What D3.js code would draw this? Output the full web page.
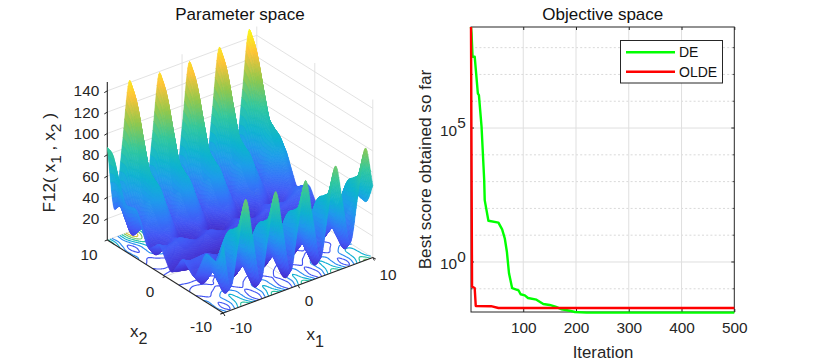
<!DOCTYPE html>
<html><head><meta charset="utf-8">
<script src="https://cdn.jsdelivr.net/npm/d3@7"></script>
<style>html,body{margin:0;padding:0;background:#fff}svg{display:block}text{font-family:"Liberation Sans",Arial,sans-serif}</style>
</head><body><div id="c"></div>
<script>
// ---------- left panel data ----------
const gridX1 = [-10,-9,-8,-7,-6,-5,-4,-3,-2,-1,0,1,2,3,4,5,6,7,8,9,10];
const gridX2 = [-10,-9,-8,-7,-6,-5,-4,-3,-2,-1,0,1,2,3,4,5,6,7,8,9,10];
const surfaceZ = [
[63.5,22.1,60.4,98.9,58.0,17.4,56.5,95.7,55.7,15.8,55.7,95.7,56.5,17.4,58.0,98.9,60.4,22.1,63.5,105.2,67.5],
[45.7,12.6,42.5,72.6,40.2,7.9,38.6,69.5,37.8,6.3,37.8,69.5,38.6,7.9,40.2,72.6,42.5,12.6,45.7,78.9,49.6],
[44.7,18.9,41.5,64.3,39.2,14.2,37.6,61.2,36.8,12.7,36.8,61.2,37.6,14.2,39.2,64.3,41.5,18.9,44.7,70.6,48.6],
[44.9,25.5,41.7,58.1,39.4,20.8,37.8,55.0,37.0,19.2,37.0,55.0,37.8,20.8,39.4,58.1,41.7,25.5,44.9,64.4,48.8],
[30.5,16.6,27.4,38.4,25.0,11.9,23.5,35.2,22.7,10.3,22.7,35.2,23.5,11.9,25.0,38.4,27.4,16.6,30.5,44.7,34.5],
[17.4,7.9,14.2,20.8,11.9,3.1,10.3,17.7,9.5,1.6,9.5,17.7,10.3,3.1,11.9,20.8,14.2,7.9,17.4,27.1,21.3],
[21.1,15.0,18.0,21.1,15.6,10.3,14.0,18.0,13.3,8.7,13.3,18.0,14.0,10.3,15.6,21.1,18.0,15.0,21.1,27.4,25.0],
[26.0,22.4,22.9,23.6,20.5,17.7,19.0,20.4,18.2,16.1,18.2,20.4,19.0,17.7,20.5,23.6,22.9,22.4,26.0,29.9,30.0],
[16.4,14.2,13.3,12.5,10.9,9.5,9.3,9.3,8.5,8.0,8.5,9.3,9.3,9.5,10.9,12.5,13.3,14.2,16.4,18.8,20.3],
[8.0,6.3,4.8,3.5,2.5,1.6,0.9,0.4,0.1,0,0.1,0.4,0.9,1.6,2.5,3.5,4.8,6.3,8.0,9.8,11.9],
[16.4,14.2,13.3,12.5,10.9,9.5,9.3,9.3,8.5,8.0,8.5,9.3,9.3,9.5,10.9,12.5,13.3,14.2,16.4,18.8,20.3],
[26.0,22.4,22.9,23.6,20.5,17.7,19.0,20.4,18.2,16.1,18.2,20.4,19.0,17.7,20.5,23.6,22.9,22.4,26.0,29.9,30.0],
[21.1,15.0,18.0,21.1,15.6,10.3,14.0,18.0,13.3,8.7,13.3,18.0,14.0,10.3,15.6,21.1,18.0,15.0,21.1,27.4,25.0],
[17.4,7.9,14.2,20.8,11.9,3.1,10.3,17.7,9.5,1.6,9.5,17.7,10.3,3.1,11.9,20.8,14.2,7.9,17.4,27.1,21.3],
[30.5,16.6,27.4,38.4,25.0,11.9,23.5,35.2,22.7,10.3,22.7,35.2,23.5,11.9,25.0,38.4,27.4,16.6,30.5,44.7,34.5],
[44.9,25.5,41.7,58.1,39.4,20.8,37.8,55.0,37.0,19.2,37.0,55.0,37.8,20.8,39.4,58.1,41.7,25.5,44.9,64.4,48.8],
[44.7,18.9,41.5,64.3,39.2,14.2,37.6,61.2,36.8,12.7,36.8,61.2,37.6,14.2,39.2,64.3,41.5,18.9,44.7,70.6,48.6],
[45.7,12.6,42.5,72.6,40.2,7.9,38.6,69.5,37.8,6.3,37.8,69.5,38.6,7.9,40.2,72.6,42.5,12.6,45.7,78.9,49.6],
[63.5,22.1,60.4,98.9,58.0,17.4,56.5,95.7,55.7,15.8,55.7,95.7,56.5,17.4,58.0,98.9,60.4,22.1,63.5,105.2,67.5],
[82.6,31.8,79.4,127.2,77.1,27.1,75.5,124.1,74.7,25.5,74.7,124.1,75.5,27.1,77.1,127.2,79.4,31.8,82.6,133.5,86.5],
[87.1,26.0,83.9,142.1,81.6,21.3,80.0,138.9,79.2,19.7,79.2,138.9,80.0,21.3,81.6,142.1,83.9,26.0,87.1,148.3,91.0]
];
const zTicks = [20,40,60,80,100,120,140];
const xyTicks = [-10,0,10];
const contourLevels = [20,40,60,80,100,120,140];
const parulaStops = [0,0.07,0.14,0.22,0.32,0.42,0.56,0.72,0.87,1];
const parula = ["#3e26a8","#4538d8","#4459f5","#3478f8","#1f9ceb","#0eb4cf","#30c79e","#93c84c","#fec338","#f9fb15"];
// ---------- right panel data ----------
const deIter = [1,2,4,8,14,16,21,26,27,28,34,53,60,65,69,73,79,91,95,103,109,125,138,150,161,173,188,198,220,500];
const deBest = [5.9e8,3.5e8,4.6e7,4.6e7,1.95e6,1.7e6,1.12e5,1150,204,158,34.7,29.5,16.6,7.66,2.42,0.38,0.105,0.088,0.0624,0.0571,0.0454,0.0392,0.0271,0.0249,0.0215,0.0172,0.0152,0.0136,0.0129,0.0129];
const oldeIter = [1,3,8,10,39,53,500];
const oldeBest = [5.9e8,0.12,0.107,0.0229,0.0224,0.0192,0.0192];
const iterTicks = [100,200,300,400,500];
const legendNames = ["DE","OLDE"];
const legendColors = ["#00ff00","#ff0000"];

const W=825,H=362, INK="#262626", GRID="#dfdfdf";
const svg=d3.select("#c").append("svg").attr("width",W).attr("height",H);

// ---------- 3D oblique projection through scales ----------
const sx1=d3.scaleLinear().domain([-10,10]).range([0,149.5]);
const sy1=d3.scaleLinear().domain([-10,10]).range([0,-55.5]);
const sx2=d3.scaleLinear().domain([-10,10]).range([0,-116]);
const sy2=d3.scaleLinear().domain([-10,10]).range([0,-73]);
const sz =d3.scaleLinear().domain([0,148.3]).range([0,-158]);
const OX=223.3,OY=313;
const P=(a,b,z=0)=>[OX+sx1(a)+sx2(b), OY+sy1(a)+sy2(b)+sz(z)];
const ln=d3.line();
const L=svg.append("g");
const seg=(g,a,b,c,w=0.9)=>g.append("path").attr("d",ln([a,b])).attr("stroke",c).attr("stroke-width",w).attr("fill","none");

const zTop=148.3;
const wallG=L.append("g");
zTicks.forEach(z=>{
  seg(wallG,P(-10,10,z),P(10,10,z),GRID);
  seg(wallG,P(10,10,z),P(10,-10,z),GRID);
});
[0,10].forEach(a=>seg(wallG,P(a,10,0),P(a,10,zTop),GRID));
[0,-10].forEach(b=>seg(wallG,P(10,b,0),P(10,b,zTop),GRID));
seg(wallG,P(0,-10),P(0,10),GRID);
seg(wallG,P(-10,0),P(10,0),GRID);
seg(wallG,P(-10,10),P(10,10),GRID);
seg(wallG,P(10,10),P(10,-10),GRID);

// render-time smoothing of the surface table (Catmull-Rom between the table rows)
const SUB=9;
function cr(p0,p1,p2,p3,t){return 0.5*((2*p1)+(-p0+p2)*t+(2*p0-5*p1+4*p2-p3)*t*t+(-p0+3*p1-3*p2+p3)*t*t*t);}
function up(arr){const n=arr.length,o=[];
  for(let i=0;i<n-1;i++){const a=arr[i],b=arr[i+1],z=i>0?arr[i-1]:2*a-b,d=i<n-2?arr[i+2]:2*b-a;
    for(let s=0;s<SUB;s++)o.push(cr(z,a,b,d,s/SUB));}
  o.push(arr[n-1]);return o;}
const rowsUp=surfaceZ.map(up);
const fine=[];
for(let c=0;c<rowsUp[0].length;c++){const col=up(rowsUp.map(r=>r[c]));col.forEach((v,r)=>{(fine[r]=fine[r]||[])[c]=v;});}
const fx1=up(gridX1), fx2=up(gridX2);
const N=fx1.length;
const color=d3.scaleLinear().domain(parulaStops.map(s=>s*148.3)).range(parula).interpolate(d3.interpolateRgb).clamp(true);

// floor contours
const flat=[];for(let r=0;r<N;r++)for(let c=0;c<N;c++)flat.push(fine[r][c]);
const conG=L.append("g").attr("fill","none").attr("stroke-width",1.15);
d3.contours().size([N,N]).smooth(true).thresholds(contourLevels)(flat).forEach(ct=>{
  let d="";
  ct.coordinates.forEach(poly=>poly.forEach(ring=>{
    let pen=false;
    for(let i=0;i<ring.length;i++){
      const c=ring[i][0]-0.5,r=ring[i][1]-0.5;
      const prev=i?ring[i-1]:null;
      const edge=(q,w)=>(q<=0.02&&w<=0.02)||(q>=N-1.02&&w>=N-1.02);
      const broken=prev&&(edge(prev[0]-0.5,c)||edge(prev[1]-0.5,r));
      const cc=Math.max(0,Math.min(N-1,c)),rr=Math.max(0,Math.min(N-1,r));
      const a=-10+cc/(N-1)*20,b=-10+rr/(N-1)*20;
      const p=P(a,b);
      d+=(pen&&!broken?"L":"M")+p[0].toFixed(2)+","+p[1].toFixed(2);
      pen=true;
    }
  }));
  conG.append("path").attr("d",d).attr("stroke",color(ct.value));
});

seg(L,P(-10,10,0),P(-10,10,zTop),INK,1.1);
seg(L,P(-10,10,0),P(-10,-10,0),INK,1.1);
seg(L,P(-10,-10,0),P(10,-10,0),INK,1.1);

// surface, painted back to front
const cells=[];
for(let r=N-2;r>=0;r--)for(let c=N-2;c>=0;c--)cells.push([r,c]);
const cellColor=([r,c])=>color((fine[r][c]+fine[r][c+1]+fine[r+1][c]+fine[r+1][c+1])/4);
L.append("g").attr("stroke-width",0.6).selectAll("path").data(cells).join("path")
 .attr("d",([r,c])=>ln([P(fx1[c],fx2[r],fine[r][c]),P(fx1[c+1],fx2[r],fine[r][c+1]),P(fx1[c+1],fx2[r+1],fine[r+1][c+1]),P(fx1[c],fx2[r+1],fine[r+1][c])])+"Z")
 .attr("fill",cellColor).attr("stroke",cellColor);

const tickText=(t,x,y,a,fs=15.4)=>L.append("text").attr("x",x).attr("y",y).attr("text-anchor",a).attr("font-size",fs).attr("fill",INK).text(t);
zTicks.forEach(z=>{const p=P(-10,10,z);seg(L,[p[0]-3,p[1]+1.8],p,INK,1);tickText(z,p[0]-8,p[1]+5.5,"end");});
xyTicks.forEach(a=>{const p=P(a,-10);seg(L,p,[p[0]+1.6,p[1]+3],INK,1);});
xyTicks.forEach(b=>{const p=P(-10,b);seg(L,p,[p[0]-2.6,p[1]+1],INK,1);});
seg(L,P(10,-10),[P(10,-10)[0]+3,P(10,-10)[1]+1.5],INK,1);
seg(L,P(-10,-10),[P(-10,-10)[0]-3,P(-10,-10)[1]+1],INK,1);
[[-10,241,333],[0,309,306],[10,388,280]].forEach(d=>tickText(d[0],d[1],d[2],"middle"));
[[10,89,260],[0,150,297],[-10,201,332]].forEach(d=>tickText(d[0],d[1],d[2],"middle"));

function sub(g,x,y,base,s,fs){
  const t=g.append("text").attr("x",x).attr("y",y).attr("font-size",fs).attr("fill",INK);
  t.append("tspan").text(base);
  t.append("tspan").attr("dy",7).attr("font-size",fs*0.95).text(s);
}
sub(L,130,337,"x","2",17);
sub(L,306.5,340,"x","1",17);

const zl=L.append("text").attr("transform","translate(55,212.5) rotate(-90)").attr("font-size",17.2).attr("fill",INK);
zl.append("tspan").text("F12( x");
zl.append("tspan").attr("dy",6).attr("font-size",15.5).text("1");
zl.append("tspan").attr("dy",-6).text(" , x");
zl.append("tspan").attr("dy",6).attr("font-size",15.5).text("2");
zl.append("tspan").attr("dy",-6).text(" )");

const title=(t,x)=>svg.append("text").attr("x",x).attr("y",20).attr("text-anchor","middle").attr("font-size",17).attr("fill","#111").text(t);
title("Parameter space",240);
title("Objective space",602.8);

// ---------- right panel ----------
const x=d3.scaleLinear().domain([1,500]).range([471,734.3]);
const y=d3.scaleLog().domain([0.0136,5.9e8]).range([312,27]);
const R=svg.append("g");
const decades=d3.range(-1,9);
decades.filter(d=>d!==0&&d!==5).forEach(d=>{
  R.append("line").attr("x1",471).attr("x2",734.3).attr("y1",y(10**d)).attr("y2",y(10**d)).attr("stroke","#d9d9d9").attr("stroke-width",1).attr("stroke-dasharray","2 2.2");
  [[471,472.6],[734.3,732.7]].forEach(e=>R.append("line").attr("x1",e[0]).attr("x2",e[1]).attr("y1",y(10**d)).attr("y2",y(10**d)).attr("stroke",INK).attr("stroke-width",0.8));
});
[0,5].forEach(d=>R.append("line").attr("x1",471).attr("x2",734.3).attr("y1",y(10**d)).attr("y2",y(10**d)).attr("stroke",GRID).attr("stroke-width",1));
iterTicks.slice(0,4).forEach(t=>R.append("line").attr("x1",x(t)).attr("x2",x(t)).attr("y1",27).attr("y2",312).attr("stroke",GRID).attr("stroke-width",1));
const ax=R.append("g").attr("transform","translate(0,312)").call(d3.axisBottom(x).tickValues(iterTicks).tickSize(-3).tickPadding(10).tickFormat(d3.format("d")));
ax.select(".domain").remove();ax.selectAll("line").attr("stroke",INK);
ax.selectAll("text").attr("font-size",15.4).attr("fill",INK).attr("font-family",'"Liberation Sans",Arial,sans-serif');
R.append("g").attr("transform","translate(0,27)").call(d3.axisTop(x).tickValues(iterTicks).tickSize(-3).tickFormat("")).call(g=>{g.select(".domain").remove();g.selectAll("line").attr("stroke",INK);});
[0,5].forEach(d=>{
  [[471,474],[734.3,731.3]].forEach(e=>R.append("line").attr("x1",e[0]).attr("x2",e[1]).attr("y1",y(10**d)).attr("y2",y(10**d)).attr("stroke",INK).attr("stroke-width",1));
  const t=R.append("text").attr("x",440).attr("y",y(10**d)+7.5).attr("font-size",15.4).attr("fill",INK);
  t.append("tspan").text("10");
  t.append("tspan").attr("dy",-7.5).attr("font-size",15.4).text(d);
});
R.append("rect").attr("x",471).attr("y",27).attr("width",263.3).attr("height",285).attr("fill","none").attr("stroke",INK).attr("stroke-width",1);
const line=d3.line().x(d=>x(d[0])).y(d=>y(d[1]));
R.append("path").attr("d",line(d3.zip(deIter,deBest))).attr("fill","none").attr("stroke",legendColors[0]).attr("stroke-width",2.4).attr("stroke-linejoin","round");
R.append("path").attr("d",line(d3.zip(oldeIter,oldeBest))).attr("fill","none").attr("stroke",legendColors[1]).attr("stroke-width",2.4).attr("stroke-linejoin","round");
R.append("text").attr("x",603).attr("y",357.5).attr("text-anchor","middle").attr("font-size",16.8).attr("fill",INK).text("Iteration");
R.append("text").attr("transform","translate(431,169.5) rotate(-90)").attr("text-anchor","middle").attr("font-size",17.2).attr("fill",INK).text("Best score obtained so far");

// legend
R.append("rect").attr("x",620.5).attr("y",40.5).attr("width",102).attr("height",42.5).attr("fill","#fff").attr("stroke",INK).attr("stroke-width",1);
legendNames.forEach((n,i)=>{
  const yy=52.3+i*19.4;
  R.append("line").attr("x1",626).attr("x2",675).attr("y1",yy).attr("y2",yy).attr("stroke",legendColors[i]).attr("stroke-width",2.4);
  R.append("text").attr("x",679).attr("y",yy+5).attr("font-size",14).attr("fill","#111").text(n);
});
</script></body></html>
